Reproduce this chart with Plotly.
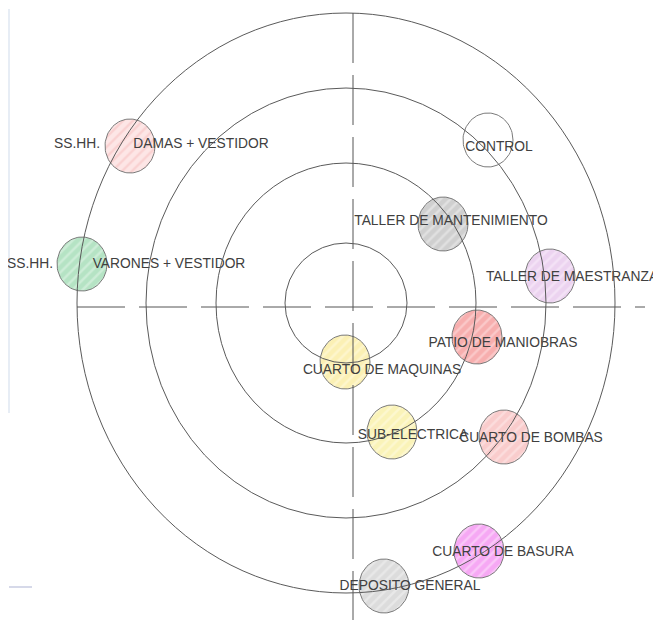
import numpy as np
import plotly.graph_objects as go

# drawing is laid out in a 661 x 620 coordinate space (y grows downwards)
ring_cx = 346
ring_cy = 303
ring_rx = [61, 130, 200, 269]
ring_ry = [60, 140, 215, 290]

# dashed cross lines
h_line_x = [77, 645]
h_line_y = [307, 307]
v_line_x = [353, 353]
v_line_y = [13, 620]

# rooms (bubbles)
room_names = ["damas", "varones", "control", "mantenimiento", "maestranza", "patio",
              "maquinas", "subelectrica", "bombas", "basura", "deposito"]
room_x = [130, 82, 488, 443, 550, 477, 345, 392, 504, 479, 384]
room_y = [146, 264, 140, 224, 276, 337, 362, 432, 437, 551, 586]
room_bg = ["#fde6e6", "#b5e3c4", "#ffffff", "#cfcfcf", "#ecd3f0", "#f7aeae",
           "#fbf0b4", "#faf3b8", "#f9cccc", "#f6a8f4", "#dcdcdc"]
room_fg = ["#f6bcbc", "#e6f6ea", "#ffffff", "#f2f2f2", "#fbf2fc", "#fde3e3",
           "#fffbe6", "#fffbe6", "#fdecec", "#fde6fc", "#f4f4f4"]

# text labels
label_text = ["SS.HH.", "DAMAS + VESTIDOR", "SS.HH.", "VARONES + VESTIDOR", "CONTROL",
              "TALLER DE MANTENIMIENTO", "TALLER DE MAESTRANZA", "PATIO DE MANIOBRAS",
              "CUARTO DE MAQUINAS", "SUB-ELECTRICA", "CUARTO DE BOMBAS",
              "CUARTO DE BASURA", "DEPOSITO GENERAL"]
label_x = [77, 201, 30, 169, 499, 451, 572, 503, 382, 413, 531, 503, 410]
label_y = [145, 145, 265, 265, 148, 222, 278, 344, 371, 436, 439, 553, 587]

bubble_rx = 25
bubble_ry = 27

# the page body adds an 8px margin, shift the axis ranges to compensate
off = 8

fig = go.Figure()

t = np.linspace(0, 2 * np.pi, 90)
for ii in range(len(room_names)):
    fig.add_trace(go.Scatter(
        x=room_x[ii] + bubble_rx * np.cos(t),
        y=room_y[ii] + bubble_ry * np.sin(t),
        mode="lines",
        fill="toself",
        fillcolor=room_bg[ii],
        fillpattern=dict(shape="/", bgcolor=room_bg[ii], fgcolor=room_fg[ii],
                         size=7, solidity=0.35),
        line=dict(color="#7a7a7a", width=1),
        hoverinfo="skip",
        name=room_names[ii]))

# rings
for rx, ry in zip(ring_rx, ring_ry):
    fig.add_shape(type="circle", xref="x", yref="y",
                  x0=ring_cx - rx, x1=ring_cx + rx,
                  y0=ring_cy - ry, y1=ring_cy + ry,
                  line=dict(color="#5a5a5a", width=1), layer="above")

fig.add_trace(go.Scatter(x=h_line_x, y=h_line_y, mode="lines",
                         line=dict(color="#555555", width=1, dash="48px,14px"),
                         hoverinfo="skip"))
fig.add_trace(go.Scatter(x=v_line_x, y=v_line_y, mode="lines",
                         line=dict(color="#555555", width=1, dash="50px,12px"),
                         hoverinfo="skip"))

# faint leftovers at the left edge of the sheet
fig.add_trace(go.Scatter(x=[9, 9], y=[9, 413], mode="lines",
                         line=dict(color="#dfe7f2", width=1.5), hoverinfo="skip"))
fig.add_trace(go.Scatter(x=[9, 32], y=[587, 587], mode="lines",
                         line=dict(color="#c9cde2", width=1.5), hoverinfo="skip"))
fig.add_shape(type="circle", xref="x", yref="y", x0=-22, x1=6, y0=183, y1=211,
              line=dict(color="#9a9a9a", width=1))

fig.add_trace(go.Scatter(
    x=label_x, y=label_y, mode="text", text=label_text,
    textposition="middle center",
    textfont=dict(family="Liberation Sans, Arial", size=13.8, color="#404040"),
    hoverinfo="skip"))

fig.update_layout(
    width=661, height=620,
    margin=dict(l=0, r=0, t=0, b=0),
    paper_bgcolor="white", plot_bgcolor="white",
    showlegend=False,
    xaxis=dict(range=[off, 661 + off], visible=False, fixedrange=True),
    yaxis=dict(range=[620 + off, off], visible=False, fixedrange=True),
)

fig.write_html("out.html")
